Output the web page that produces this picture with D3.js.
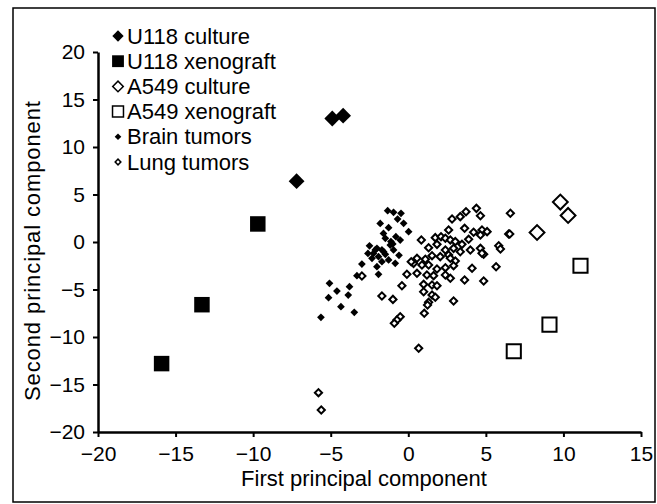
<!DOCTYPE html>
<html>
<meta charset="utf-8">
<head>
    <script src="https://d3js.org/d3.v7.min.js"></script>
    <style>
        body { margin: 0; background: white; }
        text { font-family: "Liberation Sans", Arial, Helvetica, sans-serif; fill: black; }
    </style>
</head>
<body>
    <script>

        // series names, in legend order
        var seriesNames = ["U118 culture", "U118 xenograft", "A549 culture", "A549 xenograft", "Brain tumors", "Lung tumors"];

        var xTicks = [-20, -15, -10, -5, 0, 5, 10, 15];
        var yTicks = [-20, -15, -10, -5, 0, 5, 10, 15, 20];

        // [first PC, second PC]
        var u118Culture = [[-4.9, 13.0], [-4.2, 13.3], [-7.2, 6.4]];
        var u118Xeno = [[-9.7, 1.9], [-13.3, -6.6], [-15.9, -12.8]];
        var a549Culture = [[9.8, 4.2], [10.3, 2.8], [8.3, 1.0]];
        var a549Xeno = [[11.1, -2.5], [9.1, -8.7], [6.8, -11.5]];

        var brain = [
            [-1.33, 3.29], [-0.95, 3.12], [-0.47, 3.02], [-1.81, 1.96], [-1.27, 1.51], [-0.69, 2.42],
            [-0.30, 1.97], [0.02, 1.09], [-1.48, 0.39], [-1.12, 0.04], [-0.80, 0.56], [-0.52, 0.21],
            [-1.16, -0.32], [-2.02, -0.67], [-1.70, -0.84], [-0.95, -0.84], [-2.24, -1.19], [-1.59, -1.02],
            [-2.34, -1.72], [-1.92, -1.54], [-1.48, -1.30], [-2.13, -0.84], [-1.27, -1.89], [-0.84, -2.25],
            [-1.70, -2.07], [-2.02, -2.60], [-2.99, -2.32], [-1.92, -3.40], [-3.31, -3.55], [-5.08, -4.35],
            [-4.60, -5.16], [-3.79, -4.70], [-5.14, -5.86], [-3.87, -5.58], [-4.34, -6.81], [-3.48, -7.40],
            [-5.63, -7.93], [-2.5, -0.4], [-1.0, -0.2], [-1.6, 0.9], [-2.6, -1.2], [-0.6, -1.4]
        ];

        var lung = [
            [4.39, 3.54], [3.72, 3.19], [3.35, 2.67], [2.82, 2.42], [4.65, 2.77], [6.58, 3.02],
            [6.47, 0.84], [3.63, 1.44], [2.60, 1.26], [4.21, 1.02], [4.75, 1.26], [5.08, 1.09],
            [0.84, 0.21], [1.74, 0.46], [2.11, 0.56], [2.39, 0.39], [2.71, 0.21], [3.03, 0.04],
            [3.46, -0.25], [3.89, 0.28], [4.65, 0.74], [5.83, -0.39], [5.94, -0.74], [1.31, -0.60],
            [1.85, -0.25], [2.39, -0.84], [2.92, -0.67], [3.35, -1.02], [4.00, -0.84], [4.65, -0.67],
            [4.86, -1.30], [0.56, -1.72], [1.10, -1.82], [1.53, -1.44], [2.06, -1.54], [2.60, -1.37],
            [3.03, -2.00], [2.71, -1.72], [0.34, -2.25], [0.88, -2.42], [1.31, -2.42], [1.85, -2.84],
            [2.39, -2.70], [2.92, -2.49], [4.11, -2.77], [5.66, -2.60], [-0.09, -3.40], [0.56, -3.30],
            [1.20, -3.47], [1.63, -3.54], [2.39, -3.47], [2.71, -3.82], [3.63, -4.00], [4.86, -4.11],
            [-0.41, -4.60], [0.99, -4.46], [1.53, -4.53], [1.85, -4.60], [0.99, -5.23], [1.53, -5.58],
            [1.74, -5.82], [2.92, -6.21], [-1.70, -5.68], [-0.99, -6.04], [1.31, -6.35], [1.24, -6.63],
            [1.03, -7.51], [-0.52, -7.86], [-0.73, -8.21], [-0.90, -8.56], [-2.99, -3.58], [0.67, -11.19],
            [-5.79, -15.86], [-5.61, -17.68], [6.54, 0.84], [4.75, -1.19], [0.19, -2.07]
        ];

        var width = 657,
            height = 504;

        var svg = d3.select("body").append("svg")
            .attr("width", width)
            .attr("height", height);

        // outer frame
        svg.append("rect")
            .attr("x", 13)
            .attr("y", 8)
            .attr("width", 642)
            .attr("height", 494)
            .attr("fill", "none")
            .attr("stroke", "black")
            .attr("stroke-width", 1.5);

        var x = d3.scaleLinear().domain([-20, 15]).range([98, 641]);
        var y = d3.scaleLinear().domain([-20, 20]).range([432, 52]);

        svg.append("g")
            .attr("transform", "translate(0," + y(-20) + ")")
            .call(d3.axisBottom(x).tickValues(xTicks).tickSize(5).tickSizeOuter(0).tickPadding(9));

        svg.append("g")
            .attr("transform", "translate(" + x(-20) + ",0)")
            .call(d3.axisLeft(y).tickValues(yTicks).tickSize(5).tickSizeOuter(0).tickPadding(8));

        svg.selectAll(".domain").attr("stroke-width", 2.5);
        svg.selectAll(".tick line").attr("stroke-width", 2);
        svg.selectAll(".tick text")
            .style("font-size", "21px")
            .attr("font-family", null);

        svg.append("text")
            .attr("x", 364)
            .attr("y", 486)
            .attr("text-anchor", "middle")
            .style("font-size", "22px")
            .text("First principal component");

        svg.append("text")
            .attr("transform", "translate(40,251) rotate(-90)")
            .attr("text-anchor", "middle")
            .attr("textLength", 300)
            .attr("lengthAdjust", "spacing")
            .style("font-size", "22px")
            .text("Second principal component");

        var sym = function(size) {
            return d3.symbol().type(d3.symbolSquare).size(size)();
        };

        // [data, rotate (diamond), size, fill, stroke width]
        var styles = [
            [u118Culture, 45, 125, "black", 0],
            [u118Xeno, 0, 240, "black", 0],
            [a549Culture, 45, 110, "white", 2],
            [a549Xeno, 0, 200, "white", 2],
            [brain, 45, 30, "black", 0],
            [lung, 45, 26, "white", 2]
        ];

        var plot = svg.append("g");

        // small ones first, big markers on top
        [5, 4, 0, 1, 2, 3].forEach(function(i) {
            var s = styles[i];
            plot.selectAll(null)
                .data(s[0])
                .enter()
                .append("path")
                .attr("d", sym(s[2]))
                .attr("transform", d => "translate(" + x(d[0]) + "," + y(d[1]) + ") rotate(" + s[1] + ")")
                .attr("fill", s[3])
                .attr("stroke", "black")
                .attr("stroke-width", s[4]);
        });

        // legend
        var legendSizes = [64, 140, 56, 120, 22, 16];
        var legend = svg.append("g");

        seriesNames.forEach(function(name, i) {
            var s = styles[i];
            var ly = 36 + i * 25.2;
            legend.append("path")
                .attr("d", sym(legendSizes[i]))
                .attr("transform", "translate(118," + ly + ") rotate(" + s[1] + ")")
                .attr("fill", s[3])
                .attr("stroke", "black")
                .attr("stroke-width", s[4] ? 1.5 : 0);
            legend.append("text")
                .attr("x", 127)
                .attr("y", ly + 7.5)
                .style("font-size", "22px")
                .text(name);
        });

    </script>
</body>
</html>
